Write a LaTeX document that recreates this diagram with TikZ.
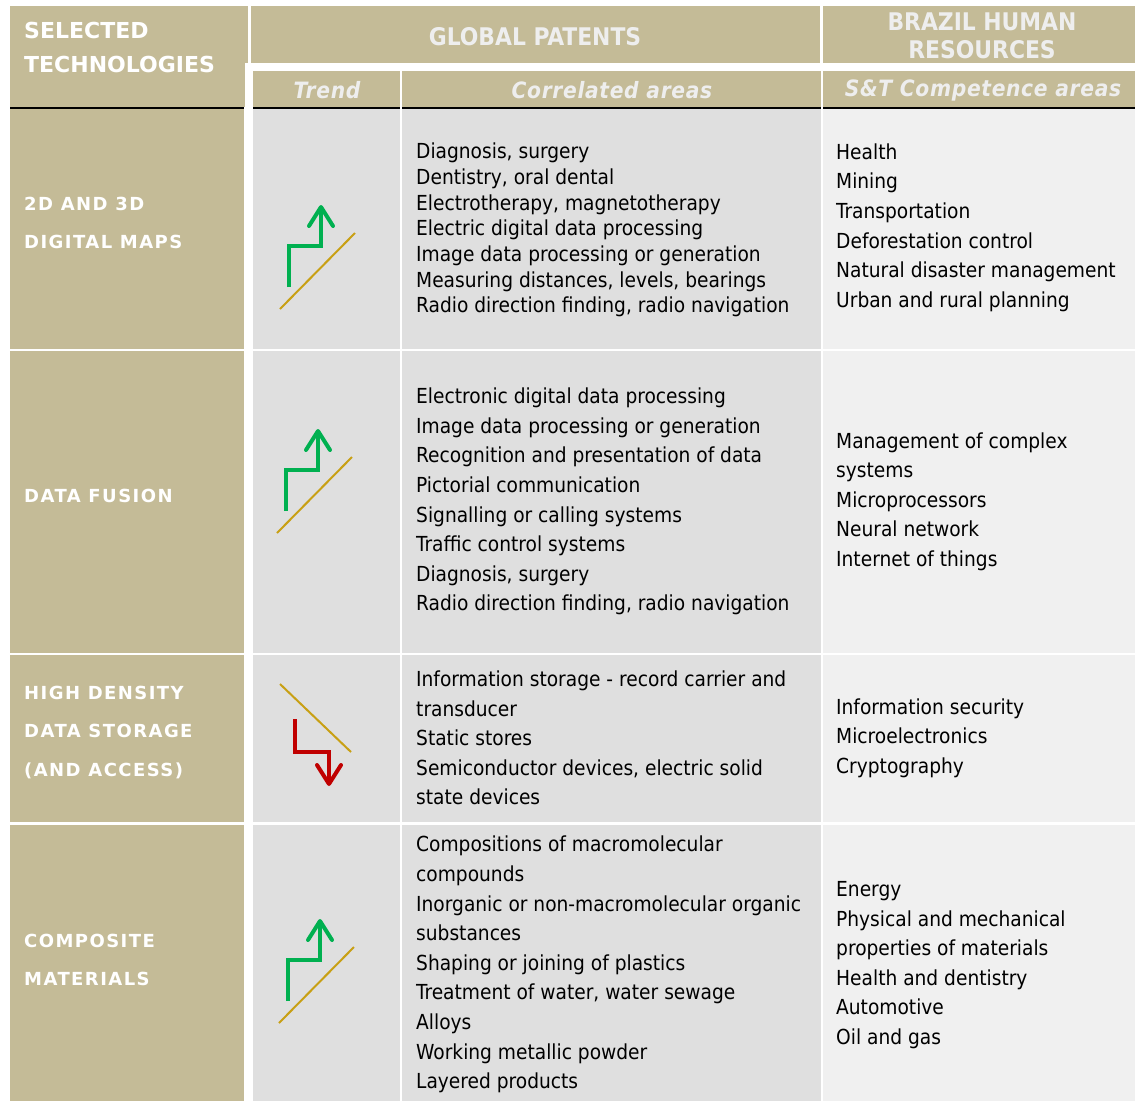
\documentclass[tikz,border=0pt]{standalone}
\usepackage{fontspec}
\usetikzlibrary{arrows.meta}
\setmainfont{DejaVu Sans Condensed}
\newfontfamily\techfont[LetterSpace=8]{DejaVu Sans}
\newfontfamily\headfont{DejaVu Sans}
\newfontfamily\subheadfont[LetterSpace=3]{DejaVu Sans Condensed}
\definecolor{tan}{RGB}{196,187,151}
\definecolor{cellgray}{RGB}{223,223,223}
\definecolor{celllight}{RGB}{240,240,240}
\definecolor{headtext}{RGB}{238,238,238}
\definecolor{upgreen}{RGB}{0,176,80}
\definecolor{downred}{RGB}{192,0,0}
\definecolor{trendgold}{RGB}{200,160,20}
\newcommand{\bodyrow}[2]
{   \fill[tan] (10,#1) rectangle (244,#2);
    \fill[cellgray] (253,#1) rectangle (399.7,#2);
    \fill[cellgray] (402,#1) rectangle (820.5,#2);
    \fill[celllight] (823,#1) rectangle (1135,#2);
}
\newcommand{\trendup}[1]
{   \draw[trendgold, line width=2pt] ([shift={(-9,22)}]#1) -- ([shift={(66,-54)}]#1);
    \draw[upgreen, trendarrow] (#1) -- ++(0,-41) -- ++(32,0) -- ++(0,-41);
}
\newcommand{\trenddown}[1]
{   \draw[trendgold, line width=2pt] ([shift={(-15,-35)}]#1) -- ([shift={(56,33)}]#1);
    \draw[downred, trendarrow] (#1) -- ++(0,33) -- ++(34,0) -- ++(0,34);
}

\begin{document}
\begin{tikzpicture}[x=1pt,y=-1pt,
  trendarrow/.style={line width=4pt, -{Straight Barb[length=19pt,width=24pt,line width=4pt,round]}},
  toptitle/.style={align=center, inner sep=0pt, text=headtext, font=\bfseries\fontsize{24.3}{28}\selectfont},
  subtitle/.style={inner sep=0pt, text=headtext, font=\subheadfont\bfseries\itshape\fontsize{22.5}{25}\selectfont},
  techlabel/.style={anchor=west, align=left, inner sep=0pt, text=white, font=\techfont\bfseries\fontsize{18}{38.5}\selectfont},
  listtext/.style={anchor=west, align=left, inner sep=0pt, font=\fontsize{20.7}{29.6}\selectfont},
  tightlist/.style={listtext, font=\fontsize{20.7}{25.7}\selectfont}]
\useasboundingbox (0,0) rectangle (1135,1101);

% header cells
\fill[tan] (10,6) rectangle (247.5,63);
\fill[tan] (10,63) rectangle (245,107.3);
\fill[tan] (250.5,6) rectangle (820,63.3);
\fill[tan] (823,6) rectangle (1135,63.3);
\fill[tan] (253,71) rectangle (399.5,107.3);
\fill[tan] (402,71) rectangle (820.5,107.3);
\fill[tan] (823,71) rectangle (1135,107.3);
\fill[black] (10,107.3) rectangle (244,109.3);
\fill[black] (253,107.3) rectangle (399.5,109.3);
\fill[black] (402,107.3) rectangle (820.5,109.3);
\fill[black] (823,107.3) rectangle (1135,109.3);

\node[anchor=west, align=left, inner sep=0pt, text=white, font=\headfont\bfseries\fontsize{22}{34}\selectfont] (selected) at (24,47) {SELECTED\\TECHNOLOGIES};
\node[toptitle] (patents) at (535,37) {GLOBAL PATENTS};
\node[toptitle] (brazil) at (982,36) {BRAZIL HUMAN\\RESOURCES};
\node[subtitle] (trend) at (327,90) {Trend};
\node[subtitle] (correlated) at (612,90) {Correlated areas};
\node[subtitle] (competence) at (983,90) {S\&T Competence areas};

% body rows
\bodyrow{109.3}{348.7}
\bodyrow{351}{652.5}
\bodyrow{655}{822}
\bodyrow{825}{1101}

% row 1
\node[techlabel] (tech1) at (24,223) {2D AND 3D\\DIGITAL MAPS};
\trendup{289,287}
\node[tightlist] (corr1) at (416,230) {Diagnosis, surgery\\Dentistry, oral dental\\Electrotherapy, magnetotherapy\\Electric digital data processing\\Image data processing or generation\\Measuring distances, levels, bearings\\Radio direction finding, radio navigation};
\node[listtext] (comp1) at (836,227.5) {Health\\Mining\\Transportation\\Deforestation control\\Natural disaster management\\Urban and rural planning};

% row 2
\node[techlabel] (tech2) at (24,496) {DATA FUSION};
\trendup{286,511}
\node[listtext] (corr2) at (416,501.5) {Electronic digital data processing\\Image data processing or generation\\Recognition and presentation of data\\Pictorial communication\\Signalling or calling systems\\Traffic control systems\\Diagnosis, surgery\\Radio direction finding, radio navigation};
\node[listtext] (comp2) at (836,501.5) {Management of complex\\systems\\Microprocessors\\Neural network\\Internet of things};

% row 3
\node[techlabel] (tech3) at (24,732) {HIGH DENSITY\\DATA STORAGE\\(AND ACCESS)};
\trenddown{295,719}
\node[listtext] (corr3) at (416,738) {Information storage - record carrier and\\transducer\\Static stores\\Semiconductor devices, electric solid\\state devices};
\node[listtext] (comp3) at (836,738) {Information security\\Microelectronics\\Cryptography};

% row 4
\node[techlabel] (tech4) at (24,960) {COMPOSITE\\MATERIALS};
\trendup{288,1001}
\node[listtext] (corr4) at (416,964.5) {Compositions of macromolecular\\compounds\\Inorganic or non-macromolecular organic\\substances\\Shaping or joining of plastics\\Treatment of water, water sewage\\Alloys\\Working metallic powder\\Layered products};
\node[listtext] (comp4) at (836,965) {Energy\\Physical and mechanical\\properties of materials\\Health and dentistry\\Automotive\\Oil and gas};
\end{tikzpicture}
\end{document}
